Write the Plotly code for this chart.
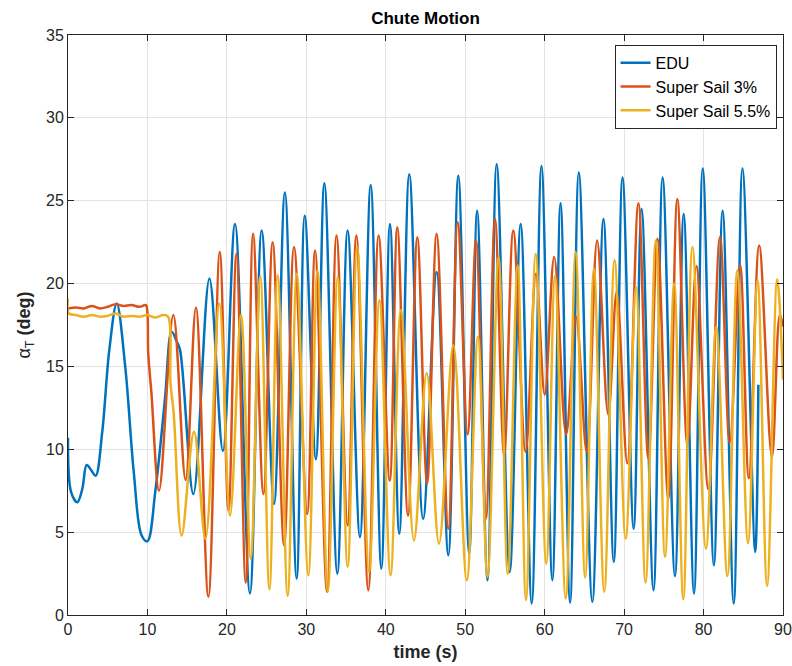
import plotly.graph_objects as go

# EDU (blue)
edu_t = [0, 0.4, 1.17, 1.8, 2.35, 2.98, 3.48, 4.3, 5.2, 6.13, 7.2, 8.3, 9.27, 9.99, 11.0, 12.2, 13.05, 13.68, 14.1,
         15.78, 17.8, 19.5, 21.02, 22.9, 24.38, 25.93, 27.3, 28.78, 29.8, 31.2, 32.27, 33.9, 35.2, 36.75, 38.1,
         39.44, 40.53, 41.7, 42.96, 44.7, 46.4, 47.87, 49.13, 50.5, 51.5, 52.8, 53.96, 55.6, 56.98, 58.37, 59.6,
         60.97, 62.0, 63.2, 64.3, 66.0, 67.4, 68.7, 69.8, 71.2, 72.2, 73.7, 74.85, 76.4, 77.5, 78.8, 79.9, 81.3,
         82.4, 83.8, 84.9, 86.5, 86.9]
edu_v = [10.7, 7.4, 6.8, 7.6, 9.05, 8.7, 8.4, 11.0, 16.0, 18.8, 15.0, 8.5, 4.8, 4.45, 7.5, 13.0, 17.1, 16.5, 16.0,
         7.3, 20.3, 9.9, 23.6, 1.3, 23.2, 6.7, 25.5, 2.2, 24.1, 9.4, 26.05, 2.5, 23.2, 4.7, 25.95,
         2.8, 23.6, 4.9, 26.6, 5.8, 20.7, 3.6, 26.5, 3.7, 24.4, 2.1, 27.2, 2.6, 23.6, 0.7, 27.1,
         2.1, 24.85, 0.75, 26.7, 0.8, 23.9, 3.2, 26.4, 5.2, 24.5, 1.5, 26.4, 2.35, 24.2, 1.3, 26.95, 3.0,
         24.4, 0.7, 26.95, 3.8, 13.9]

# Super Sail 3% (orange)
ss3_t = [0, 1, 2, 3, 4, 5, 6, 7, 8, 9, 9.8, 10.0, 10.1, 10.5, 11.46, 13.26, 14.8, 16.1, 17.67, 19.1, 20.2, 21.2,
         22.37, 23.3, 24.6, 25.76, 27.2, 28.45, 30.1, 31.1, 32.6, 33.8, 35.2, 36.3, 37.8, 39.1, 40.5, 41.45,
         42.8, 43.97, 45.2, 46.4, 47.87, 49.05, 50.3, 51.36, 52.6, 53.75, 54.9, 56.05, 57.6, 58.9, 60.0,
         61.2, 62.7, 63.95, 65.3, 66.6, 68.0, 69.07, 70.4, 71.8, 73.05, 74.2, 75.56, 76.7, 77.96, 79.1,
         80.6, 82.07, 83.3, 84.6, 85.7, 87.0, 88.6, 89.6, 90]
ss3_v = [18.5, 18.55, 18.5, 18.65, 18.5, 18.6, 18.75, 18.65, 18.7, 18.6, 18.7, 18.2, 15.8, 13.4, 7.5, 18.1, 8.15,
         18.55, 1.1, 21.9, 6.3, 21.8, 1.95, 23.0, 7.3, 22.5, 4.2, 22.2, 6.1, 22.0, 1.4, 22.9, 5.4, 22.9,
         1.5, 22.9, 8.1, 23.4, 6.0, 22.8, 7.95, 23.0, 5.2, 23.7, 10.9, 22.6, 5.8, 23.9, 9.65, 23.2, 9.85,
         20.6, 13.3, 21.6, 10.9, 18.0, 9.85, 22.6, 12.1, 19.5, 9.15, 24.85, 9.45, 22.7, 7.0, 25.1, 10.3,
         21.06, 7.6, 22.8, 10.4, 21.1, 8.25, 22.3, 9.55, 18.1, 17.4]

# Super Sail 5.5% (yellow)
ss55_t = [0, 0.1, 1, 2, 3, 4, 5, 6, 7, 8, 9, 10, 11, 12, 12.6, 12.9, 13.3, 14.3, 15.86, 17.3, 19.05, 20.4, 21.78,
          23.0, 24.2, 25.35, 26.4, 27.65, 28.8, 30.25, 31.4, 32.7, 33.95, 35.2, 36.4, 37.9, 39.2, 40.6, 41.9,
          43.55, 45.15, 46.7, 48.5, 50.2, 51.6, 52.8, 54.2, 55.35, 56.6, 57.65, 58.87, 60.2, 61.3, 62.65,
          63.9, 65.1, 66.2, 67.5, 68.8, 70.2, 71.5, 72.7, 73.98, 75.15, 76.3, 77.45, 78.6, 80.3, 81.6, 83.0,
          84.25, 85.6, 86.8, 88.0, 89.27, 90]
ss55_v = [19.1, 18.2, 18.1, 18.0, 18.1, 18.0, 18.05, 18.2, 18.0, 18.05, 18.0, 18.1, 17.95, 18.1, 18.0, 14.0, 12.2,
          4.8, 11.06, 4.6, 18.8, 6.0, 18.1, 3.4, 20.46, 1.55, 20.5, 1.15, 20.6, 2.4, 20.8, 1.4, 20.4, 2.9,
          22.2, 2.6, 19.0, 2.4, 18.4, 4.5, 14.6, 4.3, 16.3, 2.1, 16.8, 2.3, 21.6, 2.47, 21.1, 0.9, 21.8,
          3.1, 20.46, 1.0, 21.9, 2.25, 20.9, 1.4, 21.4, 4.6, 19.8, 1.95, 22.6, 3.5, 20.0, 0.95, 22.2, 4.0,
          17.4, 2.35, 20.8, 4.33, 20.2, 1.75, 20.26, 14.2]

x_ticks = [0, 10, 20, 30, 40, 50, 60, 70, 80, 90]
y_ticks = [0, 5, 10, 15, 20, 25, 30, 35]

FONT = "Liberation Sans, Arial, Helvetica, sans-serif"
fig = go.Figure()
for name, t, v, c in [("EDU", edu_t, edu_v, "#0072BD"),
                      ("Super Sail 3%", ss3_t, ss3_v, "#D95319"),
                      ("Super Sail 5.5%", ss55_t, ss55_v, "#EDB120")]:
    fig.add_trace(go.Scatter(x=t, y=v, name=name, mode="lines",
                             line=dict(color=c, width=2.5, shape="spline", smoothing=1.0)))

axis_common = dict(showline=True, linecolor="#262626", linewidth=1, mirror="ticks",
                   ticks="inside", ticklen=6, tickcolor="#262626", automargin=False,
                   showgrid=True, gridcolor="#E3E3E3", gridwidth=1, zeroline=False,
                   tickfont=dict(family=FONT, size=16, color="#262626"))
fig.update_layout(
    width=792, height=666,
    margin=dict(l=68, r=9, t=35, b=51),
    paper_bgcolor="white", plot_bgcolor="white",
    title=dict(text="<b>Chute Motion</b>", x=0.5, xanchor="center", xref="paper",
               y=1 - 18 / 666, yanchor="middle", font=dict(family=FONT, size=17, color="black")),
    xaxis=dict(range=[0, 90], tickvals=x_ticks,
               title=dict(text="<b>time (s)</b>", font=dict(family=FONT, size=18, color="#262626"), standoff=8),
               **axis_common),
    yaxis=dict(range=[0, 35], tickvals=y_ticks,
               title=dict(text="α<sub>T</sub><b> (deg)</b>", font=dict(family=FONT, size=18, color="#262626"),
                          standoff=10),
               **axis_common),
    legend=dict(x=0.991, xanchor="right", y=0.983, yanchor="top",
                bgcolor="white", bordercolor="#262626", borderwidth=1,
                font=dict(family=FONT, size=16, color="black"),
                tracegroupgap=0, itemwidth=30),
    showlegend=True,
)
fig.write_html("out.html")
